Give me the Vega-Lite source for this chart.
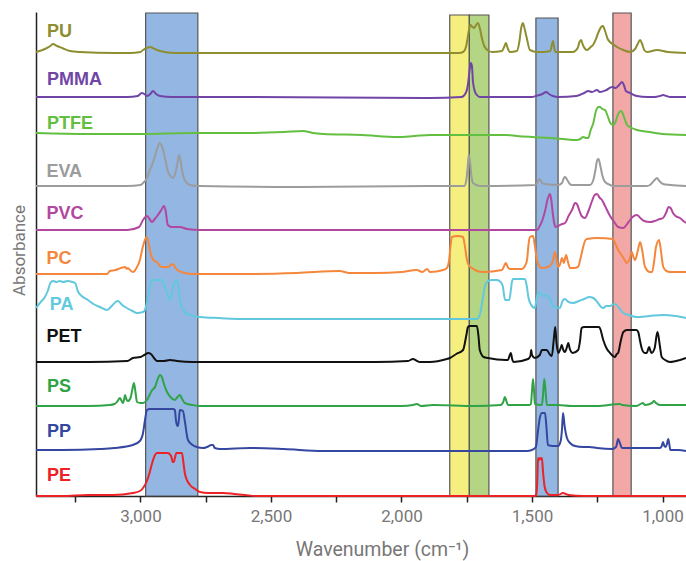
{
  "$schema": "https://vega.github.io/schema/vega-lite/v6.json",
  "width": 650,
  "height": 484,
  "autosize": {"type": "none"},
  "padding": {"left": 36, "top": 12, "right": 0, "bottom": 65},
  "config": {"view": {"stroke": null}},
  "datasets": {
    "bands": [
      {"k": "CH", "x1": 2980, "x2": 2780, "top": 483},
      {"k": "CO1", "x1": 1815, "x2": 1740, "top": 481},
      {"k": "CO2", "x1": 1740, "x2": 1665, "top": 481},
      {"k": "CH", "x1": 1485, "x2": 1400, "top": 478},
      {"k": "CF", "x1": 1190, "x2": 1120, "top": 483}
    ],
    "labels": [
      {"p": "PU", "wn": 3358, "a": 464},
      {"p": "PMMA", "wn": 3358, "a": 416},
      {"p": "PTFE", "wn": 3358, "a": 372},
      {"p": "EVA", "wn": 3360, "a": 324},
      {"p": "PVC", "wn": 3360, "a": 282},
      {"p": "PC", "wn": 3360, "a": 237},
      {"p": "PA", "wn": 3347, "a": 191},
      {"p": "PET", "wn": 3360, "a": 159},
      {"p": "PS", "wn": 3358, "a": 109},
      {"p": "PP", "wn": 3358, "a": 64},
      {"p": "PE", "wn": 3358, "a": 20}
    ],
    "spectra": [
      {"p":"PU","wn":3400,"a":444},{"p":"PU","wn":3366,"a":447},{"p":"PU","wn":3345,"a":450},{"p":"PU","wn":3335,"a":452},{"p":"PU","wn":3320,"a":450},{"p":"PU","wn":3300,"a":448},{"p":"PU","wn":3270,"a":445},{"p":"PU","wn":3232,"a":444},{"p":"PU","wn":3100,"a":443},{"p":"PU","wn":3040,"a":443},{"p":"PU","wn":3000,"a":444},{"p":"PU","wn":2990,"a":446},{"p":"PU","wn":2975,"a":448},{"p":"PU","wn":2964,"a":449},{"p":"PU","wn":2945,"a":447},{"p":"PU","wn":2925,"a":445},{"p":"PU","wn":2868,"a":443},{"p":"PU","wn":2500,"a":443},{"p":"PU","wn":1891,"a":443},{"p":"PU","wn":1780,"a":443},{"p":"PU","wn":1764,"a":444},{"p":"PU","wn":1752,"a":450},{"p":"PU","wn":1742,"a":465},{"p":"PU","wn":1736,"a":471},{"p":"PU","wn":1728,"a":469},{"p":"PU","wn":1722,"a":468},{"p":"PU","wn":1714,"a":471},{"p":"PU","wn":1707,"a":473},{"p":"PU","wn":1700,"a":468},{"p":"PU","wn":1692,"a":458},{"p":"PU","wn":1681,"a":449},{"p":"PU","wn":1665,"a":445},{"p":"PU","wn":1653,"a":444},{"p":"PU","wn":1615,"a":445},{"p":"PU","wn":1605,"a":450},{"p":"PU","wn":1600,"a":453},{"p":"PU","wn":1592,"a":447},{"p":"PU","wn":1585,"a":444},{"p":"PU","wn":1558,"a":445},{"p":"PU","wn":1548,"a":455},{"p":"PU","wn":1542,"a":467},{"p":"PU","wn":1535,"a":473},{"p":"PU","wn":1528,"a":467},{"p":"PU","wn":1520,"a":458},{"p":"PU","wn":1508,"a":446},{"p":"PU","wn":1480,"a":444},{"p":"PU","wn":1458,"a":444},{"p":"PU","wn":1430,"a":445},{"p":"PU","wn":1422,"a":453},{"p":"PU","wn":1419,"a":455},{"p":"PU","wn":1414,"a":447},{"p":"PU","wn":1410,"a":444},{"p":"PU","wn":1343,"a":444},{"p":"PU","wn":1325,"a":448},{"p":"PU","wn":1318,"a":454},{"p":"PU","wn":1312,"a":456},{"p":"PU","wn":1305,"a":451},{"p":"PU","wn":1289,"a":446},{"p":"PU","wn":1275,"a":449},{"p":"PU","wn":1266,"a":451},{"p":"PU","wn":1255,"a":457},{"p":"PU","wn":1245,"a":464},{"p":"PU","wn":1235,"a":469},{"p":"PU","wn":1228,"a":470},{"p":"PU","wn":1220,"a":465},{"p":"PU","wn":1210,"a":457},{"p":"PU","wn":1201,"a":454},{"p":"PU","wn":1185,"a":451},{"p":"PU","wn":1174,"a":449},{"p":"PU","wn":1150,"a":446},{"p":"PU","wn":1124,"a":444},{"p":"PU","wn":1105,"a":447},{"p":"PU","wn":1095,"a":452},{"p":"PU","wn":1086,"a":456},{"p":"PU","wn":1078,"a":452},{"p":"PU","wn":1070,"a":446},{"p":"PU","wn":1059,"a":444},{"p":"PU","wn":1021,"a":446},{"p":"PU","wn":980,"a":444},{"p":"PU","wn":910,"a":443},

      {"p":"PMMA","wn":3400,"a":399},{"p":"PMMA","wn":3200,"a":399},{"p":"PMMA","wn":3050,"a":399},{"p":"PMMA","wn":3010,"a":400},{"p":"PMMA","wn":2995,"a":403},{"p":"PMMA","wn":2985,"a":402},{"p":"PMMA","wn":2975,"a":400},{"p":"PMMA","wn":2962,"a":402},{"p":"PMMA","wn":2952,"a":405},{"p":"PMMA","wn":2940,"a":402},{"p":"PMMA","wn":2925,"a":400},{"p":"PMMA","wn":2880,"a":399},{"p":"PMMA","wn":2600,"a":399},{"p":"PMMA","wn":1891,"a":398},{"p":"PMMA","wn":1770,"a":399},{"p":"PMMA","wn":1752,"a":404},{"p":"PMMA","wn":1745,"a":412},{"p":"PMMA","wn":1738,"a":428},{"p":"PMMA","wn":1734,"a":433},{"p":"PMMA","wn":1730,"a":430},{"p":"PMMA","wn":1726,"a":414},{"p":"PMMA","wn":1718,"a":404},{"p":"PMMA","wn":1711,"a":401},{"p":"PMMA","wn":1700,"a":399},{"p":"PMMA","wn":1500,"a":399},{"p":"PMMA","wn":1485,"a":400},{"p":"PMMA","wn":1460,"a":402},{"p":"PMMA","wn":1446,"a":404},{"p":"PMMA","wn":1435,"a":402},{"p":"PMMA","wn":1420,"a":400},{"p":"PMMA","wn":1400,"a":399},{"p":"PMMA","wn":1330,"a":400},{"p":"PMMA","wn":1300,"a":403},{"p":"PMMA","wn":1285,"a":405},{"p":"PMMA","wn":1270,"a":404},{"p":"PMMA","wn":1251,"a":406},{"p":"PMMA","wn":1240,"a":404},{"p":"PMMA","wn":1215,"a":406},{"p":"PMMA","wn":1193,"a":409},{"p":"PMMA","wn":1180,"a":408},{"p":"PMMA","wn":1170,"a":410},{"p":"PMMA","wn":1160,"a":413},{"p":"PMMA","wn":1155,"a":414},{"p":"PMMA","wn":1148,"a":411},{"p":"PMMA","wn":1140,"a":405},{"p":"PMMA","wn":1124,"a":403},{"p":"PMMA","wn":1098,"a":400},{"p":"PMMA","wn":1059,"a":399},{"p":"PMMA","wn":1030,"a":399},{"p":"PMMA","wn":1010,"a":400},{"p":"PMMA","wn":998,"a":401},{"p":"PMMA","wn":985,"a":400},{"p":"PMMA","wn":971,"a":399},{"p":"PMMA","wn":910,"a":399},

      {"p":"PTFE","wn":3400,"a":363},{"p":"PTFE","wn":3200,"a":362},{"p":"PTFE","wn":3000,"a":362},{"p":"PTFE","wn":2800,"a":363},{"p":"PTFE","wn":2600,"a":363},{"p":"PTFE","wn":2450,"a":364},{"p":"PTFE","wn":2377,"a":365},{"p":"PTFE","wn":2340,"a":363},{"p":"PTFE","wn":2300,"a":362},{"p":"PTFE","wn":2150,"a":361},{"p":"PTFE","wn":2017,"a":359},{"p":"PTFE","wn":1950,"a":360},{"p":"PTFE","wn":1891,"a":361},{"p":"PTFE","wn":1750,"a":361},{"p":"PTFE","wn":1600,"a":361},{"p":"PTFE","wn":1558,"a":360},{"p":"PTFE","wn":1500,"a":359},{"p":"PTFE","wn":1431,"a":358},{"p":"PTFE","wn":1380,"a":357},{"p":"PTFE","wn":1329,"a":356},{"p":"PTFE","wn":1315,"a":357},{"p":"PTFE","wn":1304,"a":359},{"p":"PTFE","wn":1292,"a":358},{"p":"PTFE","wn":1285,"a":358},{"p":"PTFE","wn":1275,"a":366},{"p":"PTFE","wn":1265,"a":373},{"p":"PTFE","wn":1255,"a":385},{"p":"PTFE","wn":1245,"a":389},{"p":"PTFE","wn":1240,"a":389},{"p":"PTFE","wn":1230,"a":387},{"p":"PTFE","wn":1220,"a":386},{"p":"PTFE","wn":1210,"a":380},{"p":"PTFE","wn":1200,"a":373},{"p":"PTFE","wn":1190,"a":371},{"p":"PTFE","wn":1182,"a":373},{"p":"PTFE","wn":1170,"a":382},{"p":"PTFE","wn":1160,"a":385},{"p":"PTFE","wn":1155,"a":384},{"p":"PTFE","wn":1145,"a":377},{"p":"PTFE","wn":1136,"a":371},{"p":"PTFE","wn":1125,"a":369},{"p":"PTFE","wn":1098,"a":366},{"p":"PTFE","wn":1050,"a":364},{"p":"PTFE","wn":1000,"a":362},{"p":"PTFE","wn":910,"a":361},

      {"p":"EVA","wn":3400,"a":310},{"p":"EVA","wn":3200,"a":310},{"p":"EVA","wn":3050,"a":310},{"p":"EVA","wn":3000,"a":311},{"p":"EVA","wn":2990,"a":313},{"p":"EVA","wn":2975,"a":318},{"p":"EVA","wn":2965,"a":325},{"p":"EVA","wn":2950,"a":335},{"p":"EVA","wn":2935,"a":348},{"p":"EVA","wn":2926,"a":353},{"p":"EVA","wn":2918,"a":350},{"p":"EVA","wn":2905,"a":337},{"p":"EVA","wn":2895,"a":325},{"p":"EVA","wn":2885,"a":320},{"p":"EVA","wn":2875,"a":318},{"p":"EVA","wn":2866,"a":323},{"p":"EVA","wn":2858,"a":333},{"p":"EVA","wn":2852,"a":341},{"p":"EVA","wn":2846,"a":335},{"p":"EVA","wn":2838,"a":322},{"p":"EVA","wn":2825,"a":314},{"p":"EVA","wn":2810,"a":311},{"p":"EVA","wn":2772,"a":310},{"p":"EVA","wn":2400,"a":309},{"p":"EVA","wn":1891,"a":310},{"p":"EVA","wn":1760,"a":310},{"p":"EVA","wn":1752,"a":315},{"p":"EVA","wn":1746,"a":330},{"p":"EVA","wn":1742,"a":341},{"p":"EVA","wn":1738,"a":335},{"p":"EVA","wn":1732,"a":320},{"p":"EVA","wn":1726,"a":313},{"p":"EVA","wn":1700,"a":310},{"p":"EVA","wn":1485,"a":311},{"p":"EVA","wn":1477,"a":315},{"p":"EVA","wn":1470,"a":317},{"p":"EVA","wn":1462,"a":313},{"p":"EVA","wn":1450,"a":312},{"p":"EVA","wn":1400,"a":311},{"p":"EVA","wn":1385,"a":313},{"p":"EVA","wn":1378,"a":318},{"p":"EVA","wn":1373,"a":319},{"p":"EVA","wn":1365,"a":316},{"p":"EVA","wn":1355,"a":312},{"p":"EVA","wn":1347,"a":311},{"p":"EVA","wn":1278,"a":311},{"p":"EVA","wn":1265,"a":316},{"p":"EVA","wn":1257,"a":326},{"p":"EVA","wn":1250,"a":336},{"p":"EVA","wn":1245,"a":337},{"p":"EVA","wn":1238,"a":330},{"p":"EVA","wn":1230,"a":320},{"p":"EVA","wn":1220,"a":314},{"p":"EVA","wn":1200,"a":311},{"p":"EVA","wn":1190,"a":310},{"p":"EVA","wn":1060,"a":310},{"p":"EVA","wn":1048,"a":311},{"p":"EVA","wn":1030,"a":316},{"p":"EVA","wn":1021,"a":318},{"p":"EVA","wn":1012,"a":315},{"p":"EVA","wn":998,"a":312},{"p":"EVA","wn":970,"a":311},{"p":"EVA","wn":910,"a":310},

      {"p":"PVC","wn":3400,"a":266},{"p":"PVC","wn":3200,"a":266},{"p":"PVC","wn":3050,"a":266},{"p":"PVC","wn":3005,"a":269},{"p":"PVC","wn":2990,"a":276},{"p":"PVC","wn":2975,"a":280},{"p":"PVC","wn":2965,"a":277},{"p":"PVC","wn":2956,"a":274},{"p":"PVC","wn":2945,"a":277},{"p":"PVC","wn":2933,"a":281},{"p":"PVC","wn":2920,"a":286},{"p":"PVC","wn":2910,"a":290},{"p":"PVC","wn":2904,"a":286},{"p":"PVC","wn":2895,"a":271},{"p":"PVC","wn":2880,"a":269},{"p":"PVC","wn":2849,"a":269},{"p":"PVC","wn":2822,"a":267},{"p":"PVC","wn":2772,"a":266},{"p":"PVC","wn":2400,"a":266},{"p":"PVC","wn":1891,"a":266},{"p":"PVC","wn":1500,"a":266},{"p":"PVC","wn":1481,"a":266},{"p":"PVC","wn":1470,"a":270},{"p":"PVC","wn":1460,"a":276},{"p":"PVC","wn":1450,"a":285},{"p":"PVC","wn":1440,"a":297},{"p":"PVC","wn":1431,"a":302},{"p":"PVC","wn":1426,"a":296},{"p":"PVC","wn":1420,"a":282},{"p":"PVC","wn":1414,"a":272},{"p":"PVC","wn":1410,"a":269},{"p":"PVC","wn":1400,"a":270},{"p":"PVC","wn":1385,"a":272},{"p":"PVC","wn":1373,"a":273},{"p":"PVC","wn":1360,"a":280},{"p":"PVC","wn":1345,"a":287},{"p":"PVC","wn":1335,"a":293},{"p":"PVC","wn":1328,"a":292},{"p":"PVC","wn":1318,"a":285},{"p":"PVC","wn":1310,"a":280},{"p":"PVC","wn":1297,"a":278},{"p":"PVC","wn":1285,"a":284},{"p":"PVC","wn":1270,"a":295},{"p":"PVC","wn":1260,"a":301},{"p":"PVC","wn":1251,"a":302},{"p":"PVC","wn":1240,"a":298},{"p":"PVC","wn":1232,"a":296},{"p":"PVC","wn":1220,"a":290},{"p":"PVC","wn":1201,"a":280},{"p":"PVC","wn":1185,"a":274},{"p":"PVC","wn":1170,"a":269},{"p":"PVC","wn":1151,"a":268},{"p":"PVC","wn":1130,"a":274},{"p":"PVC","wn":1115,"a":279},{"p":"PVC","wn":1098,"a":281},{"p":"PVC","wn":1085,"a":278},{"p":"PVC","wn":1070,"a":275},{"p":"PVC","wn":1048,"a":274},{"p":"PVC","wn":1030,"a":275},{"p":"PVC","wn":1010,"a":277},{"p":"PVC","wn":998,"a":278},{"p":"PVC","wn":985,"a":284},{"p":"PVC","wn":977,"a":289},{"p":"PVC","wn":969,"a":288},{"p":"PVC","wn":960,"a":283},{"p":"PVC","wn":950,"a":280},{"p":"PVC","wn":933,"a":278},{"p":"PVC","wn":920,"a":275},{"p":"PVC","wn":910,"a":273},

      {"p":"PC","wn":3400,"a":222},{"p":"PC","wn":3200,"a":222},{"p":"PC","wn":3128,"a":222},{"p":"PC","wn":3117,"a":225},{"p":"PC","wn":3095,"a":226},{"p":"PC","wn":3075,"a":228},{"p":"PC","wn":3059,"a":229},{"p":"PC","wn":3052,"a":227},{"p":"PC","wn":3048,"a":228},{"p":"PC","wn":3040,"a":226},{"p":"PC","wn":3029,"a":224},{"p":"PC","wn":3015,"a":228},{"p":"PC","wn":3002,"a":236},{"p":"PC","wn":2992,"a":248},{"p":"PC","wn":2983,"a":256},{"p":"PC","wn":2977,"a":259},{"p":"PC","wn":2970,"a":255},{"p":"PC","wn":2963,"a":245},{"p":"PC","wn":2955,"a":238},{"p":"PC","wn":2945,"a":235},{"p":"PC","wn":2937,"a":234},{"p":"PC","wn":2925,"a":230},{"p":"PC","wn":2918,"a":229},{"p":"PC","wn":2895,"a":229},{"p":"PC","wn":2883,"a":231},{"p":"PC","wn":2875,"a":232},{"p":"PC","wn":2866,"a":228},{"p":"PC","wn":2852,"a":225},{"p":"PC","wn":2830,"a":223},{"p":"PC","wn":2800,"a":222},{"p":"PC","wn":2600,"a":222},{"p":"PC","wn":2400,"a":223},{"p":"PC","wn":2236,"a":225},{"p":"PC","wn":2200,"a":223},{"p":"PC","wn":2100,"a":223},{"p":"PC","wn":2000,"a":224},{"p":"PC","wn":1941,"a":226},{"p":"PC","wn":1920,"a":224},{"p":"PC","wn":1902,"a":227},{"p":"PC","wn":1891,"a":224},{"p":"PC","wn":1840,"a":226},{"p":"PC","wn":1826,"a":228},{"p":"PC","wn":1818,"a":235},{"p":"PC","wn":1812,"a":250},{"p":"PC","wn":1807,"a":259},{"p":"PC","wn":1785,"a":260},{"p":"PC","wn":1764,"a":259},{"p":"PC","wn":1757,"a":250},{"p":"PC","wn":1749,"a":236},{"p":"PC","wn":1740,"a":230},{"p":"PC","wn":1730,"a":228},{"p":"PC","wn":1711,"a":225},{"p":"PC","wn":1688,"a":224},{"p":"PC","wn":1615,"a":226},{"p":"PC","wn":1605,"a":231},{"p":"PC","wn":1600,"a":233},{"p":"PC","wn":1593,"a":229},{"p":"PC","wn":1585,"a":227},{"p":"PC","wn":1539,"a":227},{"p":"PC","wn":1527,"a":230},{"p":"PC","wn":1519,"a":236},{"p":"PC","wn":1513,"a":252},{"p":"PC","wn":1508,"a":259},{"p":"PC","wn":1496,"a":260},{"p":"PC","wn":1490,"a":252},{"p":"PC","wn":1481,"a":236},{"p":"PC","wn":1470,"a":229},{"p":"PC","wn":1462,"a":228},{"p":"PC","wn":1440,"a":229},{"p":"PC","wn":1431,"a":230},{"p":"PC","wn":1420,"a":235},{"p":"PC","wn":1412,"a":244},{"p":"PC","wn":1405,"a":235},{"p":"PC","wn":1400,"a":229},{"p":"PC","wn":1392,"a":232},{"p":"PC","wn":1385,"a":238},{"p":"PC","wn":1378,"a":233},{"p":"PC","wn":1372,"a":239},{"p":"PC","wn":1369,"a":241},{"p":"PC","wn":1364,"a":236},{"p":"PC","wn":1354,"a":228},{"p":"PC","wn":1340,"a":228},{"p":"PC","wn":1324,"a":229},{"p":"PC","wn":1312,"a":240},{"p":"PC","wn":1304,"a":249},{"p":"PC","wn":1295,"a":256},{"p":"PC","wn":1289,"a":257},{"p":"PC","wn":1250,"a":258},{"p":"PC","wn":1190,"a":257},{"p":"PC","wn":1182,"a":253},{"p":"PC","wn":1170,"a":246},{"p":"PC","wn":1157,"a":241},{"p":"PC","wn":1145,"a":236},{"p":"PC","wn":1137,"a":233},{"p":"PC","wn":1125,"a":238},{"p":"PC","wn":1118,"a":244},{"p":"PC","wn":1110,"a":238},{"p":"PC","wn":1105,"a":236},{"p":"PC","wn":1095,"a":245},{"p":"PC","wn":1086,"a":254},{"p":"PC","wn":1078,"a":246},{"p":"PC","wn":1067,"a":229},{"p":"PC","wn":1048,"a":224},{"p":"PC","wn":1040,"a":224},{"p":"PC","wn":1032,"a":235},{"p":"PC","wn":1025,"a":249},{"p":"PC","wn":1013,"a":256},{"p":"PC","wn":1006,"a":245},{"p":"PC","wn":997,"a":229},{"p":"PC","wn":985,"a":225},{"p":"PC","wn":971,"a":224},{"p":"PC","wn":910,"a":224},

      {"p":"PA","wn":3400,"a":188},{"p":"PA","wn":3385,"a":193},{"p":"PA","wn":3366,"a":199},{"p":"PA","wn":3355,"a":205},{"p":"PA","wn":3345,"a":213},{"p":"PA","wn":3335,"a":215},{"p":"PA","wn":3320,"a":214},{"p":"PA","wn":3310,"a":215},{"p":"PA","wn":3295,"a":214},{"p":"PA","wn":3280,"a":215},{"p":"PA","wn":3260,"a":214},{"p":"PA","wn":3250,"a":213},{"p":"PA","wn":3240,"a":205},{"p":"PA","wn":3225,"a":200},{"p":"PA","wn":3201,"a":196},{"p":"PA","wn":3180,"a":192},{"p":"PA","wn":3155,"a":189},{"p":"PA","wn":3128,"a":186},{"p":"PA","wn":3110,"a":190},{"p":"PA","wn":3095,"a":194},{"p":"PA","wn":3086,"a":195},{"p":"PA","wn":3070,"a":191},{"p":"PA","wn":3052,"a":188},{"p":"PA","wn":3030,"a":185},{"p":"PA","wn":3013,"a":183},{"p":"PA","wn":2990,"a":184},{"p":"PA","wn":2983,"a":186},{"p":"PA","wn":2970,"a":200},{"p":"PA","wn":2960,"a":214},{"p":"PA","wn":2952,"a":216},{"p":"PA","wn":2935,"a":216},{"p":"PA","wn":2918,"a":216},{"p":"PA","wn":2908,"a":210},{"p":"PA","wn":2898,"a":203},{"p":"PA","wn":2887,"a":196},{"p":"PA","wn":2880,"a":202},{"p":"PA","wn":2875,"a":209},{"p":"PA","wn":2868,"a":214},{"p":"PA","wn":2860,"a":216},{"p":"PA","wn":2854,"a":208},{"p":"PA","wn":2845,"a":192},{"p":"PA","wn":2830,"a":184},{"p":"PA","wn":2810,"a":181},{"p":"PA","wn":2772,"a":179},{"p":"PA","wn":2700,"a":178},{"p":"PA","wn":2580,"a":177},{"p":"PA","wn":2300,"a":177},{"p":"PA","wn":1891,"a":177},{"p":"PA","wn":1750,"a":177},{"p":"PA","wn":1711,"a":177},{"p":"PA","wn":1700,"a":181},{"p":"PA","wn":1690,"a":195},{"p":"PA","wn":1680,"a":210},{"p":"PA","wn":1672,"a":214},{"p":"PA","wn":1655,"a":216},{"p":"PA","wn":1635,"a":216},{"p":"PA","wn":1620,"a":214},{"p":"PA","wn":1612,"a":210},{"p":"PA","wn":1603,"a":196},{"p":"PA","wn":1587,"a":196},{"p":"PA","wn":1580,"a":208},{"p":"PA","wn":1577,"a":214},{"p":"PA","wn":1572,"a":217},{"p":"PA","wn":1550,"a":217},{"p":"PA","wn":1527,"a":217},{"p":"PA","wn":1520,"a":210},{"p":"PA","wn":1514,"a":199},{"p":"PA","wn":1505,"a":192},{"p":"PA","wn":1489,"a":188},{"p":"PA","wn":1483,"a":196},{"p":"PA","wn":1476,"a":204},{"p":"PA","wn":1465,"a":202},{"p":"PA","wn":1455,"a":200},{"p":"PA","wn":1444,"a":201},{"p":"PA","wn":1430,"a":196},{"p":"PA","wn":1420,"a":190},{"p":"PA","wn":1412,"a":189},{"p":"PA","wn":1393,"a":188},{"p":"PA","wn":1383,"a":195},{"p":"PA","wn":1374,"a":197},{"p":"PA","wn":1360,"a":194},{"p":"PA","wn":1342,"a":193},{"p":"PA","wn":1320,"a":195},{"p":"PA","wn":1300,"a":197},{"p":"PA","wn":1280,"a":199},{"p":"PA","wn":1265,"a":198},{"p":"PA","wn":1250,"a":194},{"p":"PA","wn":1235,"a":189},{"p":"PA","wn":1227,"a":188},{"p":"PA","wn":1215,"a":190},{"p":"PA","wn":1201,"a":190},{"p":"PA","wn":1185,"a":192},{"p":"PA","wn":1176,"a":191},{"p":"PA","wn":1160,"a":186},{"p":"PA","wn":1150,"a":183},{"p":"PA","wn":1130,"a":181},{"p":"PA","wn":1099,"a":179},{"p":"PA","wn":1050,"a":180},{"p":"PA","wn":997,"a":181},{"p":"PA","wn":950,"a":180},{"p":"PA","wn":910,"a":178},

      {"p":"PET","wn":3400,"a":134},{"p":"PET","wn":3200,"a":134},{"p":"PET","wn":3050,"a":135},{"p":"PET","wn":3029,"a":138},{"p":"PET","wn":3000,"a":139},{"p":"PET","wn":2985,"a":141},{"p":"PET","wn":2970,"a":143},{"p":"PET","wn":2960,"a":142},{"p":"PET","wn":2945,"a":137},{"p":"PET","wn":2937,"a":135},{"p":"PET","wn":2910,"a":135},{"p":"PET","wn":2887,"a":136},{"p":"PET","wn":2860,"a":135},{"p":"PET","wn":2800,"a":134},{"p":"PET","wn":2400,"a":134},{"p":"PET","wn":2100,"a":134},{"p":"PET","wn":1975,"a":135},{"p":"PET","wn":1956,"a":137},{"p":"PET","wn":1940,"a":135},{"p":"PET","wn":1930,"a":134},{"p":"PET","wn":1891,"a":134},{"p":"PET","wn":1826,"a":137},{"p":"PET","wn":1814,"a":138},{"p":"PET","wn":1790,"a":142},{"p":"PET","wn":1764,"a":146},{"p":"PET","wn":1752,"a":160},{"p":"PET","wn":1745,"a":169},{"p":"PET","wn":1738,"a":170},{"p":"PET","wn":1711,"a":170},{"p":"PET","wn":1705,"a":160},{"p":"PET","wn":1700,"a":146},{"p":"PET","wn":1685,"a":139},{"p":"PET","wn":1669,"a":138},{"p":"PET","wn":1600,"a":136},{"p":"PET","wn":1592,"a":136},{"p":"PET","wn":1585,"a":141},{"p":"PET","wn":1581,"a":143},{"p":"PET","wn":1576,"a":137},{"p":"PET","wn":1570,"a":134},{"p":"PET","wn":1515,"a":137},{"p":"PET","wn":1506,"a":140},{"p":"PET","wn":1503,"a":146},{"p":"PET","wn":1500,"a":141},{"p":"PET","wn":1489,"a":138},{"p":"PET","wn":1470,"a":141},{"p":"PET","wn":1462,"a":146},{"p":"PET","wn":1444,"a":146},{"p":"PET","wn":1430,"a":141},{"p":"PET","wn":1424,"a":140},{"p":"PET","wn":1416,"a":158},{"p":"PET","wn":1411,"a":169},{"p":"PET","wn":1406,"a":153},{"p":"PET","wn":1399,"a":143},{"p":"PET","wn":1390,"a":148},{"p":"PET","wn":1386,"a":151},{"p":"PET","wn":1380,"a":146},{"p":"PET","wn":1374,"a":144},{"p":"PET","wn":1366,"a":149},{"p":"PET","wn":1361,"a":153},{"p":"PET","wn":1355,"a":147},{"p":"PET","wn":1344,"a":143},{"p":"PET","wn":1323,"a":146},{"p":"PET","wn":1316,"a":155},{"p":"PET","wn":1310,"a":168},{"p":"PET","wn":1300,"a":169},{"p":"PET","wn":1245,"a":169},{"p":"PET","wn":1240,"a":168},{"p":"PET","wn":1227,"a":156},{"p":"PET","wn":1215,"a":148},{"p":"PET","wn":1201,"a":143},{"p":"PET","wn":1182,"a":139},{"p":"PET","wn":1175,"a":142},{"p":"PET","wn":1170,"a":143},{"p":"PET","wn":1160,"a":155},{"p":"PET","wn":1150,"a":164},{"p":"PET","wn":1136,"a":166},{"p":"PET","wn":1100,"a":166},{"p":"PET","wn":1093,"a":164},{"p":"PET","wn":1086,"a":155},{"p":"PET","wn":1080,"a":148},{"p":"PET","wn":1068,"a":143},{"p":"PET","wn":1061,"a":143},{"p":"PET","wn":1051,"a":149},{"p":"PET","wn":1046,"a":145},{"p":"PET","wn":1042,"a":143},{"p":"PET","wn":1030,"a":148},{"p":"PET","wn":1023,"a":160},{"p":"PET","wn":1019,"a":164},{"p":"PET","wn":1010,"a":150},{"p":"PET","wn":1003,"a":139},{"p":"PET","wn":990,"a":136},{"p":"PET","wn":971,"a":134},{"p":"PET","wn":933,"a":136},{"p":"PET","wn":910,"a":138},

      {"p":"PS","wn":3400,"a":90},{"p":"PS","wn":3200,"a":90},{"p":"PS","wn":3117,"a":91},{"p":"PS","wn":3100,"a":92},{"p":"PS","wn":3090,"a":94},{"p":"PS","wn":3085,"a":96},{"p":"PS","wn":3079,"a":98},{"p":"PS","wn":3072,"a":95},{"p":"PS","wn":3067,"a":93},{"p":"PS","wn":3062,"a":97},{"p":"PS","wn":3059,"a":101},{"p":"PS","wn":3054,"a":97},{"p":"PS","wn":3048,"a":95},{"p":"PS","wn":3038,"a":98},{"p":"PS","wn":3032,"a":105},{"p":"PS","wn":3025,"a":113},{"p":"PS","wn":3019,"a":104},{"p":"PS","wn":3013,"a":94},{"p":"PS","wn":3000,"a":93},{"p":"PS","wn":2990,"a":93},{"p":"PS","wn":2975,"a":96},{"p":"PS","wn":2955,"a":106},{"p":"PS","wn":2944,"a":109},{"p":"PS","wn":2935,"a":116},{"p":"PS","wn":2925,"a":121},{"p":"PS","wn":2918,"a":119},{"p":"PS","wn":2910,"a":112},{"p":"PS","wn":2898,"a":104},{"p":"PS","wn":2885,"a":99},{"p":"PS","wn":2868,"a":96},{"p":"PS","wn":2858,"a":99},{"p":"PS","wn":2849,"a":101},{"p":"PS","wn":2842,"a":98},{"p":"PS","wn":2830,"a":93},{"p":"PS","wn":2800,"a":91},{"p":"PS","wn":2772,"a":90},{"p":"PS","wn":2400,"a":90},{"p":"PS","wn":2000,"a":90},{"p":"PS","wn":1956,"a":91},{"p":"PS","wn":1941,"a":92},{"p":"PS","wn":1925,"a":90},{"p":"PS","wn":1880,"a":91},{"p":"PS","wn":1720,"a":90},{"p":"PS","wn":1620,"a":91},{"p":"PS","wn":1610,"a":94},{"p":"PS","wn":1604,"a":99},{"p":"PS","wn":1598,"a":95},{"p":"PS","wn":1592,"a":91},{"p":"PS","wn":1510,"a":91},{"p":"PS","wn":1504,"a":92},{"p":"PS","wn":1500,"a":105},{"p":"PS","wn":1496,"a":117},{"p":"PS","wn":1492,"a":105},{"p":"PS","wn":1489,"a":92},{"p":"PS","wn":1462,"a":91},{"p":"PS","wn":1458,"a":100},{"p":"PS","wn":1453,"a":117},{"p":"PS","wn":1448,"a":105},{"p":"PS","wn":1443,"a":91},{"p":"PS","wn":1400,"a":91},{"p":"PS","wn":1350,"a":90},{"p":"PS","wn":1250,"a":90},{"p":"PS","wn":1163,"a":92},{"p":"PS","wn":1155,"a":91},{"p":"PS","wn":1100,"a":90},{"p":"PS","wn":1075,"a":93},{"p":"PS","wn":1068,"a":91},{"p":"PS","wn":1040,"a":93},{"p":"PS","wn":1033,"a":95},{"p":"PS","wn":1025,"a":93},{"p":"PS","wn":1010,"a":91},{"p":"PS","wn":960,"a":91},{"p":"PS","wn":910,"a":91},

      {"p":"PP","wn":3400,"a":46},{"p":"PP","wn":3300,"a":46},{"p":"PP","wn":3155,"a":47},{"p":"PP","wn":3100,"a":48},{"p":"PP","wn":3029,"a":51},{"p":"PP","wn":3002,"a":55},{"p":"PP","wn":2990,"a":63},{"p":"PP","wn":2983,"a":75},{"p":"PP","wn":2975,"a":86},{"p":"PP","wn":2964,"a":87},{"p":"PP","wn":2937,"a":87},{"p":"PP","wn":2900,"a":87},{"p":"PP","wn":2875,"a":87},{"p":"PP","wn":2868,"a":86},{"p":"PP","wn":2864,"a":76},{"p":"PP","wn":2860,"a":71},{"p":"PP","wn":2856,"a":70},{"p":"PP","wn":2852,"a":78},{"p":"PP","wn":2849,"a":86},{"p":"PP","wn":2837,"a":85},{"p":"PP","wn":2830,"a":75},{"p":"PP","wn":2818,"a":56},{"p":"PP","wn":2800,"a":51},{"p":"PP","wn":2784,"a":49},{"p":"PP","wn":2760,"a":48},{"p":"PP","wn":2745,"a":49},{"p":"PP","wn":2728,"a":51},{"p":"PP","wn":2722,"a":51},{"p":"PP","wn":2715,"a":48},{"p":"PP","wn":2695,"a":47},{"p":"PP","wn":2580,"a":48},{"p":"PP","wn":2450,"a":47},{"p":"PP","wn":2301,"a":45},{"p":"PP","wn":1900,"a":45},{"p":"PP","wn":1600,"a":45},{"p":"PP","wn":1520,"a":45},{"p":"PP","wn":1500,"a":46},{"p":"PP","wn":1485,"a":49},{"p":"PP","wn":1477,"a":65},{"p":"PP","wn":1470,"a":78},{"p":"PP","wn":1462,"a":83},{"p":"PP","wn":1450,"a":83},{"p":"PP","wn":1445,"a":70},{"p":"PP","wn":1439,"a":51},{"p":"PP","wn":1420,"a":50},{"p":"PP","wn":1400,"a":50},{"p":"PP","wn":1390,"a":55},{"p":"PP","wn":1385,"a":67},{"p":"PP","wn":1381,"a":83},{"p":"PP","wn":1375,"a":70},{"p":"PP","wn":1366,"a":58},{"p":"PP","wn":1354,"a":53},{"p":"PP","wn":1335,"a":50},{"p":"PP","wn":1304,"a":49},{"p":"PP","wn":1280,"a":49},{"p":"PP","wn":1251,"a":48},{"p":"PP","wn":1193,"a":47},{"p":"PP","wn":1178,"a":49},{"p":"PP","wn":1170,"a":57},{"p":"PP","wn":1162,"a":52},{"p":"PP","wn":1155,"a":48},{"p":"PP","wn":1100,"a":48},{"p":"PP","wn":1010,"a":48},{"p":"PP","wn":1003,"a":50},{"p":"PP","wn":998,"a":54},{"p":"PP","wn":993,"a":50},{"p":"PP","wn":988,"a":49},{"p":"PP","wn":983,"a":52},{"p":"PP","wn":978,"a":57},{"p":"PP","wn":974,"a":52},{"p":"PP","wn":970,"a":46},{"p":"PP","wn":940,"a":46},{"p":"PP","wn":910,"a":45},

      {"p":"PE","wn":3400,"a":0},{"p":"PE","wn":3300,"a":0},{"p":"PE","wn":3200,"a":1},{"p":"PE","wn":3105,"a":1},{"p":"PE","wn":3029,"a":3},{"p":"PE","wn":3002,"a":5},{"p":"PE","wn":2990,"a":8},{"p":"PE","wn":2975,"a":15},{"p":"PE","wn":2964,"a":24},{"p":"PE","wn":2955,"a":33},{"p":"PE","wn":2944,"a":41},{"p":"PE","wn":2937,"a":43},{"p":"PE","wn":2910,"a":43},{"p":"PE","wn":2895,"a":43},{"p":"PE","wn":2885,"a":41},{"p":"PE","wn":2880,"a":38},{"p":"PE","wn":2877,"a":34},{"p":"PE","wn":2872,"a":34},{"p":"PE","wn":2868,"a":38},{"p":"PE","wn":2862,"a":43},{"p":"PE","wn":2841,"a":43},{"p":"PE","wn":2836,"a":35},{"p":"PE","wn":2830,"a":23},{"p":"PE","wn":2820,"a":15},{"p":"PE","wn":2810,"a":11},{"p":"PE","wn":2790,"a":7},{"p":"PE","wn":2772,"a":4},{"p":"PE","wn":2740,"a":3},{"p":"PE","wn":2684,"a":3},{"p":"PE","wn":2640,"a":2},{"p":"PE","wn":2600,"a":1},{"p":"PE","wn":2554,"a":0},{"p":"PE","wn":1600,"a":0},{"p":"PE","wn":1490,"a":0},{"p":"PE","wn":1483,"a":2},{"p":"PE","wn":1479,"a":20},{"p":"PE","wn":1477,"a":38},{"p":"PE","wn":1473,"a":36},{"p":"PE","wn":1470,"a":38},{"p":"PE","wn":1466,"a":37},{"p":"PE","wn":1462,"a":38},{"p":"PE","wn":1458,"a":25},{"p":"PE","wn":1452,"a":10},{"p":"PE","wn":1445,"a":4},{"p":"PE","wn":1431,"a":1},{"p":"PE","wn":1400,"a":1},{"p":"PE","wn":1381,"a":3},{"p":"PE","wn":1370,"a":2},{"p":"PE","wn":1360,"a":1},{"p":"PE","wn":1300,"a":0},{"p":"PE","wn":910,"a":0}
    ]
  },
  "layer": [
    {
      "data": {"name": "bands"},
      "mark": {"type": "rect", "stroke": "#555555", "strokeWidth": 1.2},
      "encoding": {
        "x": {"field": "x1", "type": "quantitative", "title": "Wavenumber (cm⁻¹)",
          "scale": {"domain": [910, 3400], "reverse": true, "nice": false, "zero": false},
          "axis": {"values": [3250, 3000, 2750, 2500, 2250, 2000, 1750, 1500, 1250, 1000], "labelExpr": "datum.value % 500 === 0 ? format(datum.value, ',') : ''", "grid": false, "tickSize": 6, "tickWidth": 1.5, "tickColor": "#222", "domainColor": "#222", "domainWidth": 1.5, "labelColor": "#777", "labelFont": "Roboto", "labelFontSize": 17, "labelPadding": 6, "titleColor": "#777", "titleFont": "Roboto", "titleFontSize": 19.5, "titleFontWeight": "normal", "titlePadding": 16, "titleX": 346, "titleAlign": "center"}},
        "x2": {"field": "x2"},
        "y": {"field": "top", "type": "quantitative", "title": "Absorbance",
          "scale": {"domain": [0, 484], "nice": false, "zero": false},
          "axis": {"ticks": false, "labels": false, "grid": false, "domainColor": "#222", "domainWidth": 1.5, "titleColor": "#777", "titleFont": "Roboto", "titleFontSize": 17, "titleFontWeight": "normal", "titlePadding": 8, "titleY": 238, "titleAlign": "center"}},
        "y2": {"datum": 0},
        "fill": {"field": "k", "type": "nominal", "legend": null,
          "scale": {"domain": ["CH", "CO1", "CO2", "CF"], "range": ["#93b6e2", "#f5ef80", "#b4d584", "#f3a8a8"]}}
      }
    },
    {
      "data": {"name": "spectra"},
      "mark": {"type": "line", "strokeWidth": 2, "interpolate": "monotone"},
      "encoding": {
        "x": {"field": "wn", "type": "quantitative", "title": "Wavenumber (cm⁻¹)",
          "scale": {"domain": [910, 3400], "reverse": true, "nice": false, "zero": false},
          "axis": {"values": [3250, 3000, 2750, 2500, 2250, 2000, 1750, 1500, 1250, 1000], "labelExpr": "datum.value % 500 === 0 ? format(datum.value, ',') : ''", "grid": false, "tickSize": 6, "tickWidth": 1.5, "tickColor": "#222", "domainColor": "#222", "domainWidth": 1.5, "labelColor": "#777", "labelFont": "Roboto", "labelFontSize": 17, "labelPadding": 6, "titleColor": "#777", "titleFont": "Roboto", "titleFontSize": 19.5, "titleFontWeight": "normal", "titlePadding": 16, "titleX": 346, "titleAlign": "center"}},
        "y": {"field": "a", "type": "quantitative", "title": "Absorbance",
          "scale": {"domain": [0, 484], "nice": false, "zero": false},
          "axis": {"ticks": false, "labels": false, "grid": false, "domainColor": "#222", "domainWidth": 1.5, "titleColor": "#777", "titleFont": "Roboto", "titleFontSize": 17, "titleFontWeight": "normal", "titlePadding": 8, "titleY": 238, "titleAlign": "center"}},
        "color": {"field": "p", "type": "nominal", "legend": null,
          "scale": {"domain": ["PU", "PMMA", "PTFE", "EVA", "PVC", "PC", "PA", "PET", "PS", "PP", "PE"],
            "range": ["#8e8e30", "#7145a6", "#62bf40", "#9c9c9c", "#b2479f", "#f5873c", "#62c8de", "#111111", "#2fa346", "#3547a0", "#ec2227"]}},
        "detail": {"field": "p"}
      }
    },
    {
      "data": {"name": "labels"},
      "mark": {"type": "text", "align": "left", "baseline": "middle", "font": "Liberation Sans", "fontWeight": "bold", "fontSize": 18},
      "encoding": {
        "x": {"field": "wn", "type": "quantitative", "title": "Wavenumber (cm⁻¹)",
          "scale": {"domain": [910, 3400], "reverse": true, "nice": false, "zero": false},
          "axis": {"values": [3250, 3000, 2750, 2500, 2250, 2000, 1750, 1500, 1250, 1000], "labelExpr": "datum.value % 500 === 0 ? format(datum.value, ',') : ''", "grid": false, "tickSize": 6, "tickWidth": 1.5, "tickColor": "#222", "domainColor": "#222", "domainWidth": 1.5, "labelColor": "#777", "labelFont": "Roboto", "labelFontSize": 17, "labelPadding": 6, "titleColor": "#777", "titleFont": "Roboto", "titleFontSize": 19.5, "titleFontWeight": "normal", "titlePadding": 16, "titleX": 346, "titleAlign": "center"}},
        "y": {"field": "a", "type": "quantitative", "title": "Absorbance",
          "scale": {"domain": [0, 484], "nice": false, "zero": false},
          "axis": {"ticks": false, "labels": false, "grid": false, "domainColor": "#222", "domainWidth": 1.5, "titleColor": "#777", "titleFont": "Roboto", "titleFontSize": 17, "titleFontWeight": "normal", "titlePadding": 8, "titleY": 238, "titleAlign": "center"}},
        "text": {"field": "p"},
        "color": {"field": "p", "type": "nominal", "legend": null,
          "scale": {"domain": ["PU", "PMMA", "PTFE", "EVA", "PVC", "PC", "PA", "PET", "PS", "PP", "PE"],
            "range": ["#8e8e30", "#7145a6", "#62bf40", "#9c9c9c", "#b2479f", "#f5873c", "#62c8de", "#111111", "#2fa346", "#3547a0", "#ec2227"]}}
      }
    }
  ]
}
